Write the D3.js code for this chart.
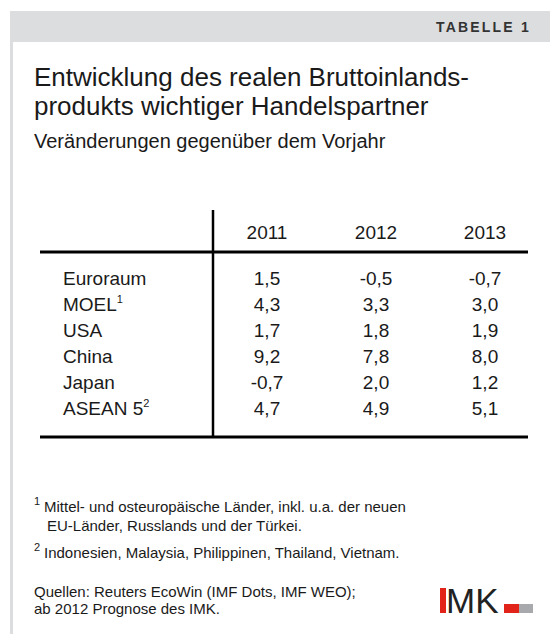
<!DOCTYPE html>
<html>
<head>
<meta charset="utf-8">
<script src="https://cdn.jsdelivr.net/npm/d3@7"></script>
<style>
  body { margin: 0; background: #fff; }
  svg { display: block; font-family: "Liberation Sans", Arial, sans-serif; }
</style>
</head>
<body>
<svg id="chart" width="550" height="634"></svg>
<script>
// table content
var years = ["2011", "2012", "2013"];
var countries = ["Euroraum", "MOEL", "USA", "China", "Japan", "ASEAN 5"];
var marks = ["", "1", "", "", "", "2"];
var v2011 = [1.5, 4.3, 1.7, 9.2, -0.7, 4.7];
var v2012 = [-0.5, 3.3, 1.8, 7.8, 2.0, 4.9];
var v2013 = [-0.7, 3.0, 1.9, 8.0, 1.2, 5.1];

var titleLines = ["Entwicklung des realen Bruttoinlands-", "produkts wichtiger Handelspartner"];
var subtitle = "Veränderungen gegenüber dem Vorjahr";
var notes = [
  {mark: "1", lines: ["Mittel- und osteuropäische Länder, inkl. u.a. der neuen", "EU-Länder, Russlands und der Türkei."]},
  {mark: "2", lines: ["Indonesien, Malaysia, Philippinen, Thailand, Vietnam."]}
];
var source = ["Quellen: Reuters EcoWin (IMF Dots, IMF WEO);", "ab 2012 Prognose des IMK."];

var svg = d3.select("#chart");
var grey = "#dcdddf";
var ink = "#1a1a1a";

var de = d3.formatLocale({decimal: ",", thousands: ".", grouping: [3], currency: ["", " €"], minus: "-"});
var fmt = de.format(".1f");

// frame
svg.append("rect").attr("x", 10).attr("y", 11).attr("width", 540).attr("height", 31).attr("fill", grey);
svg.append("rect").attr("x", 10).attr("y", 42).attr("width", 3).attr("height", 592).attr("fill", grey);

svg.append("text")
    .attr("x", 531).attr("y", 32)
    .attr("text-anchor", "end")
    .attr("font-size", 14).attr("font-weight", "bold")
    .attr("letter-spacing", 2.2)
    .attr("fill", "#333")
    .text("TABELLE 1");

svg.append("g").selectAll("text")
    .data(titleLines)
    .join("text")
    .attr("x", 34).attr("y", (d, i) => 86 + i * 29)
    .attr("font-size", 26).attr("fill", ink)
    .text(d => d);

svg.append("text")
    .attr("x", 34).attr("y", 148)
    .attr("font-size", 20).attr("fill", ink)
    .text(subtitle);

// table
var x = d3.scalePoint().domain(years).range([267, 485]);
var y = d3.scalePoint().domain(countries).range([285, 415]);

var rows = countries.map((c, i) => ({name: c, mark: marks[i], vals: [v2011[i], v2012[i], v2013[i]]}));

var table = svg.append("g").attr("font-size", 19).attr("fill", ink);

table.append("line")
    .attr("x1", 213).attr("x2", 213).attr("y1", 210).attr("y2", 437)
    .attr("stroke", "#000").attr("stroke-width", 2.5);
table.selectAll("line.rule")
    .data([252, 437])
    .join("line")
    .attr("class", "rule")
    .attr("x1", 40).attr("x2", 528).attr("y1", d => d).attr("y2", d => d)
    .attr("stroke", "#000").attr("stroke-width", 3);

table.selectAll("text.year")
    .data(years)
    .join("text")
    .attr("class", "year")
    .attr("x", d => x(d)).attr("y", 239)
    .attr("text-anchor", "middle")
    .text(d => d);

var row = table.selectAll("g.row")
    .data(rows)
    .join("g")
    .attr("class", "row")
    .attr("transform", d => `translate(0,${y(d.name)})`);

var lab = row.append("text").attr("x", 63);
lab.append("tspan").text(d => d.name);
lab.append("tspan")
    .attr("font-size", 11).attr("dy", -8)
    .text(d => d.mark);

row.selectAll("text.val")
    .data(d => d.vals)
    .join("text")
    .attr("class", "val")
    .attr("x", (d, i) => x(years[i]))
    .attr("text-anchor", "middle")
    .text(d => fmt(d));

// footnotes
var fn = svg.append("g").attr("font-size", 15).attr("fill", ink);
var fy = [512, 558];
notes.forEach((n, k) => {
  fn.append("text").attr("x", 34).attr("y", fy[k] - 7).attr("font-size", 11).text(n.mark);
  n.lines.forEach((l, j) => {
    fn.append("text").attr("x", j ? 47 : 44).attr("y", fy[k] + j * 19).text(l);
  });
});
fn.selectAll("text.src")
    .data(source)
    .join("text")
    .attr("class", "src")
    .attr("x", 34).attr("y", (d, i) => 597 + i * 17)
    .text(d => d);

// logo
var logo = svg.append("g");
logo.append("rect").attr("x", 440).attr("y", 588).attr("width", 6).attr("height", 25).attr("fill", "#e2231a");
logo.append("text").attr("x", 446).attr("y", 613)
    .attr("font-size", 35).attr("fill", "#222")
    .text("MK");
logo.append("rect").attr("x", 504).attr("y", 604).attr("width", 15).attr("height", 9).attr("fill", "#e2231a");
logo.append("rect").attr("x", 519).attr("y", 604).attr("width", 14).attr("height", 9).attr("fill", "#a7a9ac");
</script>
</body>
</html>
